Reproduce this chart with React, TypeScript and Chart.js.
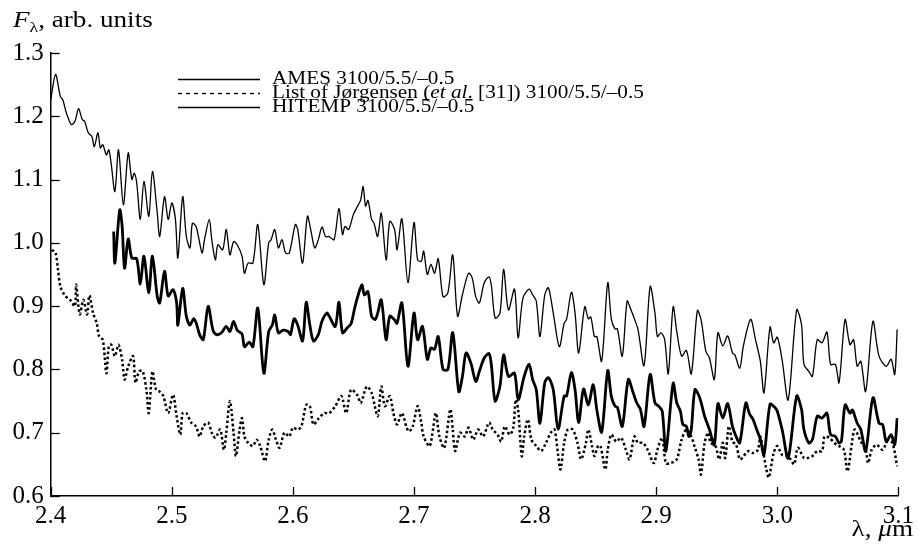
import React, { useEffect, useRef } from "react";
import { Chart, registerables } from "chart.js";

Chart.register(...registerables);

// ---- Data (λ in μm, F in arb. units) ----
const amesSpectrum: [number, number][] = [
  [2.400,1.226],[2.404,1.266],[2.408,1.231],[2.410,1.226],[2.413,1.205],[2.417,1.187],[2.420,1.192],[2.423,1.212],[2.426,1.195],[2.428,1.192],
  [2.431,1.174],[2.434,1.168],[2.436,1.152],[2.439,1.174],[2.441,1.150],[2.443,1.155],[2.446,1.139],[2.448,1.147],[2.450,1.124],[2.453,1.081],
  [2.456,1.147],[2.460,1.060],[2.464,1.142],[2.467,1.100],[2.469,1.110],[2.471,1.095],[2.474,1.037],[2.477,1.097],[2.481,1.042],[2.484,1.113],
  [2.488,1.047],[2.490,1.010],[2.494,1.073],[2.497,1.037],[2.500,1.063],[2.503,1.037],[2.505,0.976],[2.509,1.073],[2.512,1.010],[2.515,0.992],
  [2.517,1.031],[2.520,1.026],[2.522,1.010],[2.525,0.984],[2.527,1.005],[2.531,1.037],[2.533,1.005],[2.536,0.973],[2.538,0.997],[2.542,0.989],
  [2.545,1.021],[2.548,0.981],[2.551,1.002],[2.554,0.997],[2.558,0.979],[2.560,0.952],[2.563,0.968],[2.567,0.968],[2.571,1.029],[2.576,0.934],
  [2.580,1.000],[2.582,1.005],[2.585,1.021],[2.588,0.992],[2.591,1.005],[2.594,0.984],[2.597,0.984],[2.602,1.029],[2.604,1.021],[2.608,0.968],
  [2.612,1.042],[2.615,1.018],[2.618,0.992],[2.621,1.005],[2.624,1.025],[2.627,1.010],[2.630,1.010],[2.634,1.005],[2.638,1.054],[2.641,1.013],
  [2.643,1.026],[2.646,1.021],[2.650,1.045],[2.654,1.060],[2.656,1.068],[2.658,1.089],[2.660,1.058],[2.662,1.067],[2.665,1.037],[2.667,1.031],
  [2.670,1.010],[2.673,1.047],[2.677,0.973],[2.680,1.034],[2.684,1.021],[2.686,0.989],[2.690,1.038],[2.695,0.937],[2.700,1.032],[2.703,0.973],
  [2.706,0.971],[2.708,0.987],[2.711,0.950],[2.714,0.966],[2.717,0.952],[2.720,0.975],[2.724,0.915],[2.728,0.921],[2.732,0.981],[2.736,0.884],
  [2.740,0.918],[2.745,0.952],[2.748,0.945],[2.751,0.915],[2.754,0.905],[2.758,0.937],[2.762,0.946],[2.764,0.931],[2.767,0.881],[2.771,0.889],
  [2.774,0.958],[2.778,0.894],[2.783,0.927],[2.786,0.850],[2.790,0.913],[2.795,0.927],[2.798,0.918],[2.801,0.908],[2.804,0.852],[2.808,0.918],
  [2.811,0.929],[2.815,0.889],[2.820,0.836],[2.824,0.873],[2.826,0.879],[2.830,0.922],[2.833,0.889],[2.836,0.826],[2.841,0.899],[2.844,0.880],
  [2.846,0.883],[2.849,0.852],[2.851,0.852],[2.855,0.813],[2.860,0.937],[2.863,0.879],[2.866,0.864],[2.868,0.864],[2.872,0.821],[2.876,0.908],
  [2.879,0.895],[2.882,0.880],[2.885,0.863],[2.890,0.806],[2.895,0.931],[2.899,0.889],[2.901,0.852],[2.904,0.858],[2.907,0.847],[2.910,0.793],
  [2.914,0.899],[2.917,0.860],[2.921,0.821],[2.925,0.830],[2.929,0.793],[2.934,0.893],[2.937,0.879],[2.941,0.829],[2.944,0.818],[2.948,0.784],
  [2.951,0.858],[2.955,0.837],[2.959,0.853],[2.963,0.826],[2.965,0.823],[2.969,0.802],[2.972,0.837],[2.978,0.879],[2.982,0.847],[2.986,0.813],
  [2.989,0.763],[2.994,0.867],[2.997,0.842],[3.000,0.851],[3.004,0.815],[3.009,0.752],[3.016,0.894],[3.020,0.871],[3.022,0.808],[3.026,0.797],
  [3.029,0.789],[3.033,0.847],[3.037,0.842],[3.041,0.859],[3.044,0.808],[3.048,0.808],[3.051,0.779],[3.056,0.879],[3.060,0.839],[3.063,0.847],
  [3.066,0.805],[3.069,0.813],[3.073,0.765],[3.079,0.876],[3.084,0.821],[3.090,0.805],[3.094,0.816],[3.097,0.792],[3.099,0.863],
];

const hitempSpectrum: [number, number][] = [
  [2.452,1.018],[2.453,0.968],[2.457,1.052],[2.459,1.026],[2.461,0.960],[2.464,1.006],[2.467,0.976],[2.471,0.975],[2.474,0.935],[2.477,0.979],
  [2.481,0.921],[2.484,0.979],[2.488,0.915],[2.490,0.905],[2.494,0.955],[2.497,0.916],[2.501,0.926],[2.504,0.905],[2.505,0.870],[2.509,0.928],
  [2.512,0.884],[2.515,0.870],[2.518,0.880],[2.520,0.874],[2.523,0.855],[2.526,0.847],[2.530,0.900],[2.534,0.862],[2.537,0.855],[2.541,0.858],
  [2.545,0.868],[2.548,0.860],[2.551,0.876],[2.554,0.862],[2.558,0.856],[2.560,0.836],[2.564,0.843],[2.567,0.836],[2.571,0.897],[2.576,0.794],
  [2.580,0.860],[2.583,0.870],[2.585,0.886],[2.588,0.858],[2.592,0.862],[2.596,0.860],[2.598,0.855],[2.601,0.880],[2.604,0.870],[2.608,0.845],
  [2.611,0.906],[2.614,0.870],[2.617,0.845],[2.621,0.855],[2.624,0.876],[2.628,0.889],[2.630,0.884],[2.635,0.868],[2.638,0.906],[2.641,0.858],
  [2.645,0.866],[2.648,0.872],[2.651,0.897],[2.654,0.918],[2.657,0.934],[2.659,0.918],[2.662,0.923],[2.665,0.884],[2.668,0.879],[2.670,0.889],
  [2.673,0.910],[2.677,0.847],[2.680,0.884],[2.684,0.878],[2.686,0.873],[2.690,0.905],[2.695,0.805],[2.700,0.889],[2.703,0.847],[2.707,0.868],
  [2.711,0.816],[2.714,0.834],[2.717,0.832],[2.720,0.852],[2.724,0.800],[2.728,0.800],[2.732,0.858],[2.737,0.765],[2.740,0.789],[2.743,0.826],
  [2.747,0.810],[2.751,0.781],[2.754,0.797],[2.758,0.818],[2.762,0.825],[2.764,0.805],[2.767,0.750],[2.771,0.774],[2.774,0.823],[2.778,0.789],
  [2.783,0.794],[2.786,0.752],[2.791,0.789],[2.795,0.808],[2.798,0.784],[2.801,0.768],[2.804,0.715],[2.808,0.779],[2.811,0.787],[2.815,0.768],
  [2.819,0.706],[2.824,0.758],[2.826,0.758],[2.830,0.795],[2.833,0.768],[2.836,0.716],[2.840,0.769],[2.844,0.744],[2.848,0.776],[2.851,0.736],
  [2.855,0.701],[2.860,0.798],[2.863,0.757],[2.866,0.742],[2.868,0.740],[2.872,0.710],[2.877,0.784],[2.881,0.763],[2.884,0.747],[2.887,0.737],
  [2.890,0.710],[2.895,0.792],[2.899,0.747],[2.902,0.742],[2.905,0.734],[2.908,0.671],[2.914,0.778],[2.917,0.747],[2.920,0.734],[2.922,0.713],
  [2.925,0.710],[2.927,0.694],[2.929,0.705],[2.932,0.768],[2.936,0.755],[2.940,0.726],[2.944,0.705],[2.948,0.681],[2.951,0.746],[2.955,0.723],
  [2.959,0.746],[2.963,0.710],[2.966,0.694],[2.969,0.684],[2.974,0.747],[2.977,0.730],[2.980,0.721],[2.983,0.705],[2.986,0.690],[2.989,0.665],
  [2.994,0.745],[2.998,0.740],[3.000,0.734],[3.004,0.705],[3.009,0.660],[3.016,0.758],[3.020,0.737],[3.022,0.705],[3.026,0.684],[3.029,0.689],
  [3.033,0.726],[3.037,0.723],[3.041,0.731],[3.044,0.697],[3.048,0.694],[3.051,0.684],[3.053,0.687],[3.056,0.744],[3.060,0.731],[3.062,0.736],
  [3.066,0.715],[3.069,0.705],[3.073,0.671],[3.079,0.755],[3.084,0.715],[3.087,0.713],[3.090,0.686],[3.094,0.697],[3.097,0.681],[3.099,0.723],
];

const jorgensenSpectrum: [number, number][] = [
  [2.401,0.989],[2.404,0.984],[2.406,0.958],[2.408,0.931],[2.412,0.916],[2.416,0.910],[2.420,0.900],[2.421,0.934],[2.424,0.887],[2.427,0.910],
  [2.430,0.887],[2.432,0.917],[2.435,0.889],[2.438,0.873],[2.440,0.852],[2.443,0.847],[2.446,0.794],[2.448,0.837],[2.450,0.839],[2.453,0.821],
  [2.456,0.839],[2.459,0.815],[2.461,0.784],[2.464,0.805],[2.468,0.821],[2.470,0.779],[2.473,0.797],[2.476,0.797],[2.479,0.768],[2.481,0.731],
  [2.484,0.797],[2.487,0.768],[2.490,0.765],[2.493,0.758],[2.497,0.731],[2.501,0.760],[2.504,0.726],[2.507,0.697],[2.509,0.731],[2.512,0.731],
  [2.516,0.716],[2.520,0.710],[2.523,0.694],[2.526,0.710],[2.530,0.716],[2.533,0.700],[2.536,0.692],[2.540,0.705],[2.543,0.673],[2.545,0.700],
  [2.548,0.750],[2.551,0.700],[2.553,0.663],[2.556,0.705],[2.558,0.723],[2.560,0.694],[2.563,0.684],[2.567,0.679],[2.570,0.689],[2.573,0.679],
  [2.577,0.655],[2.580,0.689],[2.583,0.705],[2.586,0.689],[2.589,0.676],[2.593,0.700],[2.597,0.694],[2.600,0.708],[2.604,0.705],[2.607,0.710],
  [2.611,0.744],[2.614,0.742],[2.617,0.713],[2.621,0.722],[2.626,0.731],[2.630,0.731],[2.635,0.742],[2.640,0.758],[2.644,0.731],[2.648,0.768],
  [2.653,0.760],[2.656,0.747],[2.661,0.773],[2.665,0.763],[2.670,0.726],[2.673,0.773],[2.676,0.742],[2.680,0.758],[2.683,0.731],[2.686,0.713],
  [2.690,0.731],[2.694,0.708],[2.696,0.702],[2.699,0.710],[2.703,0.742],[2.706,0.716],[2.708,0.694],[2.713,0.679],[2.718,0.731],[2.721,0.694],
  [2.725,0.676],[2.730,0.737],[2.732,0.705],[2.734,0.671],[2.738,0.700],[2.742,0.694],[2.745,0.708],[2.749,0.689],[2.753,0.705],[2.757,0.694],
  [2.762,0.716],[2.765,0.705],[2.769,0.697],[2.772,0.686],[2.775,0.710],[2.779,0.697],[2.782,0.708],[2.784,0.752],[2.786,0.737],[2.789,0.663],
  [2.791,0.694],[2.794,0.721],[2.797,0.689],[2.801,0.679],[2.805,0.671],[2.809,0.684],[2.813,0.700],[2.816,0.705],[2.819,0.665],[2.821,0.642],
  [2.824,0.684],[2.827,0.705],[2.831,0.705],[2.835,0.684],[2.838,0.658],[2.842,0.684],[2.844,0.705],[2.847,0.679],[2.849,0.663],[2.852,0.679],
  [2.854,0.679],[2.858,0.642],[2.860,0.673],[2.863,0.697],[2.867,0.686],[2.871,0.692],[2.875,0.673],[2.878,0.658],[2.882,0.694],[2.885,0.684],
  [2.889,0.684],[2.893,0.673],[2.898,0.652],[2.901,0.673],[2.905,0.692],[2.908,0.652],[2.912,0.652],[2.917,0.658],[2.921,0.689],[2.925,0.705],
  [2.929,0.694],[2.932,0.676],[2.935,0.658],[2.937,0.634],[2.940,0.684],[2.943,0.700],[2.945,0.684],[2.949,0.679],[2.952,0.658],[2.955,0.684],
  [2.957,0.660],[2.960,0.710],[2.963,0.686],[2.966,0.681],[2.969,0.658],[2.971,0.660],[2.976,0.671],[2.980,0.668],[2.984,0.673],[2.986,0.694],
  [2.989,0.663],[2.991,0.642],[2.993,0.629],[2.997,0.668],[3.000,0.679],[3.004,0.665],[3.009,0.663],[3.011,0.658],[3.014,0.650],[3.017,0.676],
  [3.022,0.660],[3.025,0.660],[3.029,0.663],[3.033,0.671],[3.037,0.671],[3.039,0.694],[3.043,0.692],[3.047,0.684],[3.051,0.679],[3.055,0.673],
  [3.058,0.639],[3.062,0.689],[3.064,0.705],[3.069,0.686],[3.073,0.673],[3.075,0.652],[3.078,0.673],[3.082,0.681],[3.087,0.673],[3.091,0.686],
  [3.095,0.684],[3.099,0.647],
];

const xTickValues = [2.4, 2.5, 2.6, 2.7, 2.8, 2.9, 3.0, 3.1];
const yTickValues = [0.6, 0.7, 0.8, 0.9, 1.0, 1.1, 1.2, 1.3];
const seriesLabels = [
  "AMES 3100/5.5/\u20130.5",
  "List of J\u00f8rgensen (et al. [31]) 3100/5.5/\u20130.5",
  "HITEMP 3100/5.5/\u20130.5",
];

const SERIF = "'Liberation Serif', 'Times New Roman', serif";
const STRETCH = 1.18;

type Seg = { t: string; italic?: boolean; size: number; dy?: number };

function richWidth(ctx: CanvasRenderingContext2D, segs: Seg[]) {
  let w = 0;
  for (const s of segs) {
    ctx.font = `${s.italic ? "italic " : ""}${s.size}px ${SERIF}`;
    w += ctx.measureText(s.t).width;
  }
  return w * STRETCH;
}

function drawRich(ctx: CanvasRenderingContext2D, segs: Seg[], x: number, y: number) {
  ctx.save();
  ctx.translate(x, y);
  ctx.scale(STRETCH, 1);
  let cx = 0;
  for (const s of segs) {
    ctx.font = `${s.italic ? "italic " : ""}${s.size}px ${SERIF}`;
    ctx.fillText(s.t, cx, s.dy || 0);
    cx += ctx.measureText(s.t).width;
  }
  ctx.restore();
}

const decorPlugin = {
  id: "decor",
  afterDraw(chart: any) {
    const { ctx, chartArea, scales } = chart;
    const xs = scales.x;
    const ys = scales.y;
    ctx.save();
    ctx.strokeStyle = "#000";
    ctx.fillStyle = "#000";
    ctx.lineWidth = 1.3;
    ctx.setLineDash([]);
    // inward tick marks
    for (const v of xTickValues) {
      const px = Math.round(xs.getPixelForValue(v)) + 0.5;
      ctx.beginPath();
      ctx.moveTo(px, chartArea.bottom);
      ctx.lineTo(px, chartArea.bottom - 9);
      ctx.stroke();
    }
    for (const v of yTickValues) {
      const py = Math.round(ys.getPixelForValue(v)) + 0.5;
      ctx.beginPath();
      ctx.moveTo(chartArea.left, py);
      ctx.lineTo(chartArea.left + 9, py);
      ctx.stroke();
    }

    // legend
    const lx0 = 178, lx1 = 260, tx = 272;
    const rows = [79, 93, 107];
    const styles = [
      { w: 1.7, dash: [] as number[] },
      { w: 1.3, dash: [4, 4] },
      { w: 1.7, dash: [] as number[] },
    ];
    ctx.textBaseline = "middle";
    ctx.textAlign = "left";
    rows.forEach((ry, i) => {
      ctx.lineWidth = styles[i].w;
      ctx.setLineDash(styles[i].dash);
      ctx.beginPath();
      ctx.moveTo(lx0, ry + 0.5);
      ctx.lineTo(lx1, ry + 0.5);
      ctx.stroke();
    });
    ctx.setLineDash([]);
    const fs = 18;
    drawRich(ctx, [{ t: seriesLabels[0], size: fs }], tx, rows[0]);
    drawRich(ctx, [
      { t: "List of J\u00f8rgensen (", size: fs },
      { t: "et al", italic: true, size: fs },
      { t: ". [31]) 3100/5.5/\u20130.5", size: fs },
    ], tx, rows[1]);
    drawRich(ctx, [{ t: seriesLabels[2], size: fs }], tx, rows[2]);

    // y axis title
    ctx.textBaseline = "alphabetic";
    drawRich(ctx, [
      { t: "F", italic: true, size: 23 },
      { t: "\u03bb", size: 15, dy: 5 },
      { t: ", arb. units", size: 23 },
    ], 13, 27);

    // x axis title (right aligned)
    const segs: Seg[] = [
      { t: "\u03bb, ", size: 23 },
      { t: "\u03bc", italic: true, size: 23 },
      { t: "m", size: 23 },
    ];
    const w = richWidth(ctx, segs);
    drawRich(ctx, segs, 913 - w, 536);
    ctx.restore();
  },
};

export default function App() {
  const canvasRef = useRef<HTMLCanvasElement | null>(null);

  useEffect(() => {
    if (!canvasRef.current) return;
    const toPts = (arr: [number, number][]) => arr.map(([x, y]) => ({ x, y }));
    const chart = new Chart(canvasRef.current, {
      type: "line",
      data: {
        datasets: [
          {
            label: seriesLabels[0],
            data: toPts(amesSpectrum),
            borderColor: "#000",
            borderWidth: 1.3,
            pointRadius: 0,
            tension: 0.3,
            fill: false,
          },
          {
            label: seriesLabels[1],
            data: toPts(jorgensenSpectrum),
            borderColor: "#000",
            borderWidth: 2.5,
            borderDash: [2.5, 2.5],
            pointRadius: 0,
            tension: 0.3,
            fill: false,
          },
          {
            label: seriesLabels[2],
            data: toPts(hitempSpectrum),
            borderColor: "#000",
            borderWidth: 2.8,
            pointRadius: 0,
            tension: 0.3,
            fill: false,
          },
        ],
      },
      options: {
        animation: false,
        responsive: true,
        maintainAspectRatio: false,
        layout: { padding: { left: 0, top: 53, right: 19.7, bottom: 0 } },
        plugins: { legend: { display: false }, tooltip: { enabled: false }, title: { display: false } },
        scales: {
          x: {
            type: "linear",
            min: 2.4,
            max: 3.1,
            afterFit: (s: any) => { s.height = 61; },
            afterBuildTicks: (s: any) => { s.ticks = xTickValues.map((v) => ({ value: v })); },
            grid: { display: false, drawTicks: false },
            border: { display: true, color: "#000", width: 1.5 },
            ticks: {
              color: "#000",
              padding: 5,
              maxRotation: 0,
              autoSkip: false,
              font: { family: SERIF, size: 25 },
              callback: (v: any) => Number(v).toFixed(1),
            },
          },
          y: {
            type: "linear",
            min: 0.6,
            max: 1.3,
            afterFit: (s: any) => { s.width = 50.7; },
            afterBuildTicks: (s: any) => { s.ticks = yTickValues.map((v) => ({ value: v })); },
            grid: { display: false, drawTicks: false },
            border: { display: true, color: "#000", width: 1.5 },
            ticks: {
              color: "#000",
              padding: 7,
              autoSkip: false,
              font: { family: SERIF, size: 25 },
              callback: (v: any) => Number(v).toFixed(1),
            },
          },
        },
      },
      plugins: [decorPlugin],
    });
    return () => chart.destroy();
  }, []);

  return (
    <div style={{ position: "absolute", left: 0, top: 0, width: 919, height: 557, background: "#fff" }}>
      <canvas ref={canvasRef} />
    </div>
  );
}
